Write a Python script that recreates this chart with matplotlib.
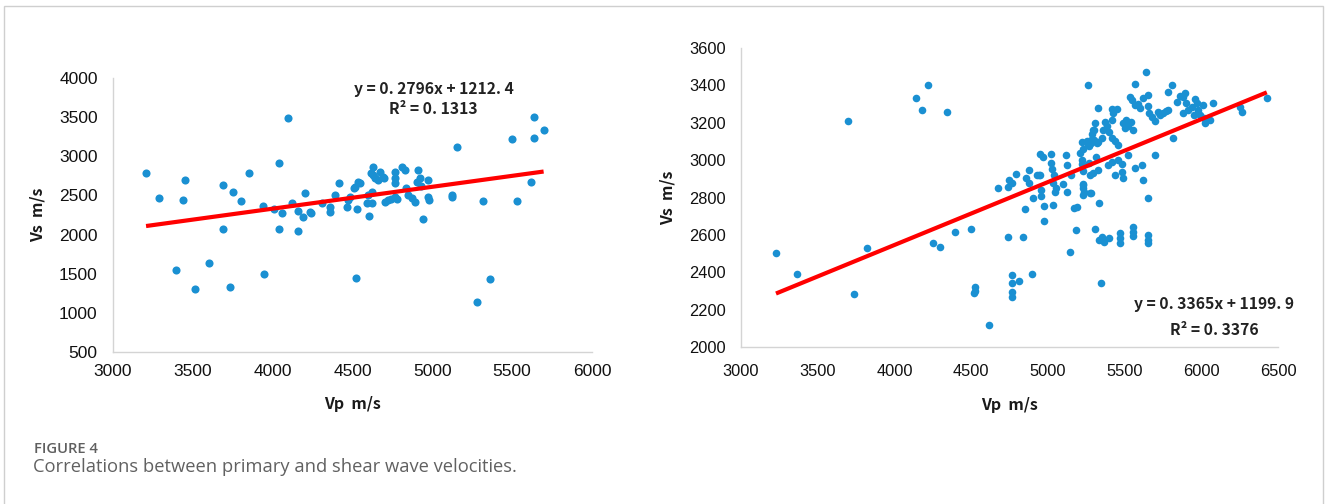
import matplotlib
matplotlib.use("Agg")
import matplotlib.pyplot as plt
from matplotlib.patches import Rectangle
import numpy as np

# ---- data: left panel (Vp, Vs in m/s) ----
left_vp = [3207, 3286, 3392, 3436, 3451, 3515, 3599, 3691, 3687, 3733, 3753, 3801,
           3850, 3948, 3937, 4010, 4041, 4041, 4060, 4098, 4119, 4156, 4156, 4192,
           4202, 4233, 4240, 4306, 4359, 4359, 4390, 4413, 4463, 4474, 4484, 4511,
           4515, 4526, 4522, 4536, 4547, 4589, 4600, 4606, 4620, 4620, 4626, 4615,
           4630, 4640, 4660, 4670, 4690, 4700, 4703, 4724, 4740, 4766, 4766, 4766,
           4766, 4780, 4808, 4829, 4838, 4849, 4870, 4891, 4912, 4922, 4905, 4930,
           4970, 4974, 4981, 4939, 5121, 5125, 5156, 5319, 5277, 5361, 5498, 5530,
           5636, 5636, 5697, 5617]
left_vs = [2791, 2467, 1548, 2438, 2697, 1309, 1637, 2633, 2075, 1335, 2548, 2429,
           2783, 1497, 2369, 2331, 2910, 2075, 2280, 3489, 2408, 2306, 2046, 2229,
           2527, 2293, 2270, 2408, 2357, 2293, 2506, 2663, 2357, 2442, 2484, 2591,
           2612, 2327, 1442, 2676, 2663, 2399, 2500, 2242, 2408, 2548, 2867, 2790,
           2760, 2720, 2700, 2800, 2740, 2720, 2420, 2442, 2450, 2803, 2719, 2655,
           2480, 2460, 2867, 2825, 2591, 2506, 2463, 2420, 2825, 2719, 2676, 2620,
           2697, 2484, 2442, 2203, 2506, 2480, 3123, 2433, 1135, 1429, 3221, 2433,
           3498, 3238, 3332, 2676]

# ---- data: right panel (Vp, Vs in m/s) ----
right_vp = [3228, 3363, 3699, 3739, 3823, 4141, 4221, 4180, 4345, 4253, 4297, 4395,
            4499, 4527, 4519, 4522, 4616, 4677, 4738, 4742, 4764, 4749, 4764, 4764,
            4764, 4764, 4815, 4840, 4853, 4792, 4858, 4875, 4879, 4895, 4905, 4927,
            4940, 4950, 4949, 4966, 4953, 4955, 4975, 4975, 5021, 5020, 5030, 5040,
            5035, 5050, 5045, 5031, 5101, 5118, 5122, 5122, 5148, 5144, 5170, 5188,
            5184, 5220, 5222, 5225, 5228, 5230, 5226, 5232, 5264, 5270, 5280, 5290,
            5300, 5275, 5279, 5307, 5314, 5329, 5318, 5334, 5336, 5345, 5351, 5364,
            5401, 5471, 5471, 5471, 5555, 5555, 5555, 5655, 5655, 5655, 5638, 5568,
            5807, 5785, 5655, 5535, 5550, 5570, 5590, 5600, 5620, 5416, 5449, 5427,
            5416, 5372, 5361, 5307, 5296, 5490, 5510, 5520, 5540, 5555, 5500, 5385,
            5400, 5420, 5440, 5455, 5260, 5280, 5300, 5330, 5350, 5210, 5230, 5255,
            5270, 5329, 5296, 5390, 5420, 5460, 5485, 5438, 5481, 5488, 5524, 5568,
            5612, 5699, 5618, 5232, 5236, 5275, 5655, 5650, 5660, 5680, 5700, 5720,
            5730, 5785, 5814, 5840, 5861, 5883, 5894, 5900, 5916, 5938, 5959, 5970,
            5981, 6013, 6024, 6018, 6057, 6079, 5750, 5770, 5880, 5950, 5990, 6252,
            6263, 6427]
right_vs = [2501, 2389, 3209, 2284, 2528, 3331, 3402, 3268, 3257, 2558, 2537, 2615,
            2631, 2323, 2287, 2300, 2116, 2851, 2590, 2858, 2876, 2894, 2385, 2341,
            2296, 2269, 2355, 2587, 2738, 2924, 2906, 2947, 2876, 2391, 2796, 2919,
            2919, 2919, 3033, 3018, 2808, 2840, 2674, 2756, 3033, 2985, 2950, 2920,
            2880, 2850, 2830, 2758, 2872, 3027, 2974, 2831, 2920, 2510, 2746, 2751,
            2626, 3099, 3000, 2980, 2940, 2870, 2850, 2813, 3402, 3075, 3110, 3140,
            3160, 2920, 2826, 2630, 3018, 3277, 3090, 2769, 2573, 2341, 2590, 2563,
            2582, 2608, 2582, 2558, 2644, 2617, 2594, 2600, 2573, 2558, 3470, 3407,
            3402, 3366, 3348, 3340, 3320, 3295, 3300, 3280, 3330, 3272, 3272, 3250,
            3215, 3206, 3161, 3197, 3161, 3200, 3215, 3180, 3205, 3160, 3170, 3180,
            3150, 3120, 3100, 3080, 3080, 3090, 3110, 3095, 3120, 3040, 3060, 3100,
            2983, 2947, 2930, 2975, 2990, 3000, 2980, 2920, 2938, 2903, 3027, 2956,
            2974, 3027, 2894, 2867, 2831, 2822, 2796, 3290, 3250, 3230, 3210, 3260,
            3240, 3268, 3117, 3313, 3343, 3340, 3357, 3308, 3268, 3286, 3325, 3304,
            3268, 3295, 3197, 3224, 3215, 3304, 3250, 3265, 3250, 3240, 3240, 3286,
            3259, 3331]

# linear trendlines (slope, intercept, R^2)
left_fit = (0.2796, 1212.4, 0.1313)
right_fit = (0.3365, 1199.9, 0.3376)

left_xticks = [3000, 3500, 4000, 4500, 5000, 5500, 6000]
left_yticks = [500, 1000, 1500, 2000, 2500, 3000, 3500, 4000]
right_xticks = [3000, 3500, 4000, 4500, 5000, 5500, 6000, 6500]
right_yticks = [2000, 2200, 2400, 2600, 2800, 3000, 3200, 3400, 3600]

W, H = 1327, 504
DOT = "#1a90d2"
CJK = ["Noto Sans CJK SC", "DejaVu Sans"]
TICKFONT = ["Liberation Sans", "DejaVu Sans"]
CAPFONT = ["Open Sans", "DejaVu Sans"]

fig = plt.figure(figsize=(W / 100, H / 100), dpi=100)
fig.patch.set_facecolor("white")

# thin frame around the figure
fig.patches.append(Rectangle((4 / W, -0.05), 1319 / W, 1.05 - 6 / H,
                             transform=fig.transFigure, fill=False,
                             edgecolor="#cfcfcf", linewidth=1.0))


def px_axes(x0, x1, y0, y1):
    return fig.add_axes([x0 / W, 1 - y1 / H, (x1 - x0) / W, (y1 - y0) / H])


def eq_text(slope, intercept):
    s = f"y = {slope}x + {intercept}"
    return s.replace(".", ". ")


def draw_panel(ax, vp, vs, fit, xticks, yticks, tick_size, xpad, msize, xlabelpad):
    ax.scatter(vp, vs, s=msize, color=DOT, linewidths=0, zorder=2)
    slope, intercept, _ = fit
    xs = np.array([min(vp), max(vp)])
    ax.plot(xs, slope * xs + intercept, color="#ff0000", linewidth=3.0,
            solid_capstyle="butt", zorder=3)
    ax.set_xlim(xticks[0], xticks[-1])
    ax.set_ylim(yticks[0], yticks[-1])
    ax.set_xticks(xticks)
    ax.set_yticks(yticks)
    for side in ("top", "right"):
        ax.spines[side].set_visible(False)
    for side in ("left", "bottom"):
        ax.spines[side].set_color("#d4d4d4")
        ax.spines[side].set_linewidth(1.0)
    ax.tick_params(axis="both", length=0, labelsize=tick_size, colors="#111111")
    ax.tick_params(axis="y", pad=11)
    ax.tick_params(axis="x", pad=xpad)
    for lab in ax.get_xticklabels() + ax.get_yticklabels():
        lab.set_family(TICKFONT)
    ax.set_xlabel("Vp  m/s", family=CJK, fontweight="bold", fontsize=11.5,
                  color="#1a1a1a", labelpad=xlabelpad)
    ax.set_ylabel("Vs  m/s", family=CJK, fontweight="bold", fontsize=11.5,
                  color="#1a1a1a", labelpad=10)


axL = px_axes(113, 592, 78, 352)
draw_panel(axL, left_vp, left_vs, left_fit, left_xticks, left_yticks, 12.5, 9, 34, 12)
axR = px_axes(741, 1278, 48, 347)
draw_panel(axR, right_vp, right_vs, right_fit, right_xticks, right_yticks, 11.8, 12, 30, 13)

# trendline equations
eq_style = dict(family=CJK, fontsize=11.3, fontweight="bold", ha="center",
                va="center", color="#222222")
fig.text(434 / W, 1 - 89 / H, eq_text(*left_fit[:2]), **eq_style)
fig.text(433 / W, 1 - 109 / H, f"R² = {left_fit[2]}".replace(".", ". "), **eq_style)
fig.text(1214 / W, 1 - 304 / H, eq_text(*right_fit[:2]), **eq_style)
fig.text(1214 / W, 1 - 330 / H, f"R² = {right_fit[2]}".replace(".", ". "), **eq_style)

# caption
fig.text(34 / W, 1 - 449 / H, "FIGURE 4", family=CAPFONT,
         fontsize=10.6, fontweight="semibold", color="#5f5f5f", ha="left", va="center")
fig.text(33 / W, 1 - 467 / H, "Correlations between primary and shear wave velocities.",
         family=CAPFONT, fontsize=13.2, color="#616161", ha="left", va="center")

fig.savefig("out.png", dpi=100, facecolor="white")
